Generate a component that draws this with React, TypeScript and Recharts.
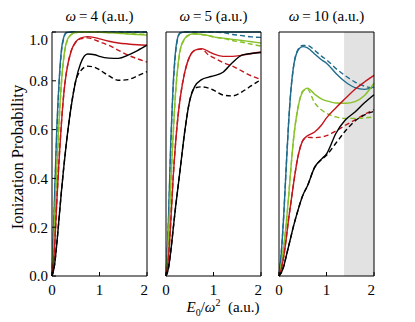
import { LineChart, Line, XAxis, YAxis, ReferenceArea } from "recharts";

// field strength grid E0/omega^2 (a.u.)
const E0 = [0, 0.05, 0.1, 0.15, 0.2, 0.25, 0.3, 0.4, 0.5, 0.6, 0.75, 0.9, 1.0, 1.2, 1.4, 1.6, 1.8, 2.0];

const X_TICKS = [0, 1, 2];
const Y_TICKS = [0, 0.2, 0.4, 0.6, 0.8, 1.0];
const TITLES = ["4", "5", "10"];

// omega = 4
const W4_BLUE = [0, 0.3, 0.6, 0.8, 0.93, 0.98, 0.998, 1, 1, 1, 1, 1, 1, 1, 1, 1, 1, 1];
const W4_BLUE_D = [0, 0.28, 0.58, 0.79, 0.92, 0.975, 0.996, 1, 1, 1, 1, 1, 1, 1, 1, 1, 1, 1];
const W4_GREEN = [0, 0.2, 0.44, 0.64, 0.8, 0.9, 0.955, 0.99, 0.998, 1, 1, 1, 0.999, 0.997, 0.995, 0.992, 0.99, 0.987];
const W4_GREEN_D = [0, 0.19, 0.43, 0.63, 0.79, 0.895, 0.95, 0.988, 0.997, 1, 1, 1, 0.999, 0.998, 0.996, 0.994, 0.992, 0.99];
const W4_RED = [0, 0.1, 0.3, 0.48, 0.63, 0.75, 0.83, 0.92, 0.96, 0.975, 0.981, 0.977, 0.972, 0.962, 0.955, 0.951, 0.948, 0.946];
const W4_RED_D = [0, 0.1, 0.3, 0.48, 0.63, 0.75, 0.83, 0.92, 0.958, 0.972, 0.976, 0.968, 0.96, 0.945, 0.925, 0.905, 0.89, 0.877];
const W4_BLACK = [0, 0.04, 0.13, 0.24, 0.35, 0.45, 0.54, 0.69, 0.8, 0.87, 0.91, 0.907, 0.9, 0.893, 0.892, 0.905, 0.924, 0.946];
const W4_BLACK_D = [0, 0.04, 0.13, 0.24, 0.35, 0.45, 0.54, 0.69, 0.8, 0.84, 0.86, 0.855, 0.845, 0.82, 0.802, 0.805, 0.82, 0.838];

// omega = 5
const W5_BLUE = [0, 0.22, 0.55, 0.78, 0.92, 0.98, 0.997, 1, 1, 1, 1, 1, 1, 1, 1, 1, 1, 1];
const W5_BLUE_D = [0, 0.21, 0.53, 0.77, 0.91, 0.975, 0.995, 1, 1, 1, 1, 1, 1, 0.997, 0.99, 0.985, 0.98, 0.978];
const W5_GREEN = [0, 0.15, 0.38, 0.58, 0.75, 0.86, 0.93, 0.975, 0.99, 0.993, 0.99, 0.985, 0.98, 0.975, 0.97, 0.965, 0.96, 0.955];
const W5_GREEN_D = [0, 0.14, 0.37, 0.57, 0.74, 0.855, 0.925, 0.972, 0.988, 0.992, 0.99, 0.985, 0.98, 0.974, 0.965, 0.958, 0.95, 0.942];
const W5_RED = [0, 0.07, 0.22, 0.4, 0.54, 0.65, 0.73, 0.84, 0.9, 0.925, 0.932, 0.92, 0.91, 0.9, 0.9, 0.905, 0.912, 0.918];
const W5_RED_D = [0, 0.07, 0.22, 0.4, 0.54, 0.65, 0.73, 0.84, 0.9, 0.924, 0.93, 0.905, 0.895, 0.875, 0.86, 0.84, 0.82, 0.805];
const W5_BLACK = [0, 0.03, 0.1, 0.19, 0.28, 0.36, 0.44, 0.6, 0.72, 0.775, 0.805, 0.815, 0.82, 0.835, 0.875, 0.905, 0.912, 0.916];
const W5_BLACK_D = [0, 0.03, 0.1, 0.19, 0.28, 0.36, 0.44, 0.6, 0.72, 0.77, 0.775, 0.77, 0.762, 0.742, 0.738, 0.755, 0.78, 0.805];

// omega = 10
const W10_BLUE = [0, 0.1, 0.25, 0.44, 0.62, 0.76, 0.85, 0.925, 0.94, 0.935, 0.91, 0.885, 0.872, 0.83, 0.795, 0.772, 0.765, 0.775];
const W10_BLUE_D = [0, 0.1, 0.25, 0.44, 0.62, 0.76, 0.85, 0.928, 0.945, 0.945, 0.925, 0.9, 0.886, 0.85, 0.82, 0.795, 0.778, 0.768];
const W10_GREEN = [0, 0.05, 0.12, 0.21, 0.32, 0.44, 0.55, 0.69, 0.755, 0.77, 0.745, 0.725, 0.718, 0.709, 0.708, 0.715, 0.74, 0.79];
const W10_GREEN_D = [0, 0.05, 0.12, 0.21, 0.32, 0.44, 0.55, 0.69, 0.758, 0.765, 0.71, 0.68, 0.667, 0.652, 0.646, 0.646, 0.648, 0.652];
const W10_RED = [0, 0.03, 0.08, 0.15, 0.23, 0.3, 0.37, 0.49, 0.555, 0.575, 0.59, 0.62, 0.648, 0.69, 0.728, 0.765, 0.795, 0.822];
const W10_RED_D = [0, 0.03, 0.08, 0.15, 0.23, 0.3, 0.37, 0.49, 0.555, 0.568, 0.567, 0.57, 0.575, 0.595, 0.618, 0.64, 0.662, 0.682];
const W10_BLACK = [0, 0.015, 0.04, 0.08, 0.12, 0.16, 0.2, 0.27, 0.33, 0.37, 0.445, 0.48, 0.5, 0.585, 0.64, 0.672, 0.71, 0.743];
const W10_BLACK_D = [0, 0.015, 0.04, 0.08, 0.12, 0.16, 0.2, 0.27, 0.33, 0.37, 0.445, 0.478, 0.495, 0.545, 0.595, 0.635, 0.66, 0.675];

const SHADE_FROM = 1.37;

const BLUE = "#1f6b8c";
const GREEN = "#86c128";
const RED = "#c3161c";
const BLACK = "#000000";
const FONT = "'Liberation Serif', 'DejaVu Serif', serif";

const rows = (b, bd, g, gd, r, rd, k, kd) =>
  E0.map((x, i) => ({ x, b: b[i], bd: bd[i], g: g[i], gd: gd[i], r: r[i], rd: rd[i], k: k[i], kd: kd[i] }));

const panels = [
  rows(W4_BLUE, W4_BLUE_D, W4_GREEN, W4_GREEN_D, W4_RED, W4_RED_D, W4_BLACK, W4_BLACK_D),
  rows(W5_BLUE, W5_BLUE_D, W5_GREEN, W5_GREEN_D, W5_RED, W5_RED_D, W5_BLACK, W5_BLACK_D),
  rows(W10_BLUE, W10_BLUE_D, W10_GREEN, W10_GREEN_D, W10_RED, W10_RED_D, W10_BLACK, W10_BLACK_D),
];

const series = [
  { key: "b", color: BLUE, dash: false },
  { key: "bd", color: BLUE, dash: true },
  { key: "g", color: GREEN, dash: false },
  { key: "gd", color: GREEN, dash: true },
  { key: "r", color: RED, dash: false },
  { key: "rd", color: RED, dash: true },
  { key: "k", color: BLACK, dash: false },
  { key: "kd", color: BLACK, dash: true },
];

const PLOT_LEFTS = [52, 166, 279];
const PLOT_W = 95;
const PLOT_H = 244;
const PLOT_TOP = 32;
const AX_W = 40;

function Panel({ idx }) {
  const left = PLOT_LEFTS[idx];
  const tickStyle = { fill: "#000", fontSize: 15, fontFamily: FONT };
  return (
    <>
      <div
        style={{
          position: "absolute",
          left: left - 20,
          width: PLOT_W + 40,
          top: 8,
          textAlign: "center",
          fontFamily: FONT,
          fontSize: 15,
          lineHeight: "16px",
          whiteSpace: "nowrap",
        }}
      >
        <i>ω</i>&thinsp;=&thinsp;{TITLES[idx]} (a.u.)
      </div>
      <div style={{ position: "absolute", left: left - AX_W, top: PLOT_TOP - 1 }}>
        <LineChart
          width={AX_W + PLOT_W + 1}
          height={1 + PLOT_H + 30}
          data={panels[idx]}
          margin={{ top: 0, right: 0, bottom: 0, left: 0 }}
        >
          {idx === 2 && (
            <ReferenceArea x1={SHADE_FROM} x2={2} y1={0} y2={1} fill="#e2e2e2" fillOpacity={1} stroke="none" />
          )}
          <XAxis
            dataKey="x"
            type="number"
            domain={[0, 2]}
            ticks={X_TICKS}
            height={30}
            tickSize={-4}
            tickMargin={12}
            stroke="#000"
            tick={tickStyle}
          />
          <XAxis
            xAxisId="top"
            orientation="top"
            dataKey="x"
            type="number"
            domain={[0, 2]}
            ticks={X_TICKS}
            height={1}
            tickSize={-4}
            stroke="#000"
            tick={false}
          />
          <YAxis
            type="number"
            domain={[0, 1]}
            ticks={Y_TICKS}
            width={AX_W}
            tickSize={-4}
            tickMargin={8}
            stroke="#000"
            tick={idx === 0 ? tickStyle : false}
            tickFormatter={(v) => Number(v).toFixed(1)}
          />
          <YAxis
            yAxisId="right"
            orientation="right"
            type="number"
            domain={[0, 1]}
            ticks={Y_TICKS}
            width={1}
            tickSize={-4}
            stroke="#000"
            tick={false}
          />
          {series.map((s) => (
            <Line
              key={s.key}
              dataKey={s.key}
              type="monotone"
              stroke={s.color}
              strokeWidth={1.4}
              strokeDasharray={s.dash ? "5 3" : undefined}
              dot={false}
              isAnimationActive={false}
            />
          ))}
        </LineChart>
      </div>
    </>
  );
}

export default function App() {
  return (
    <div
      style={{
        position: "absolute",
        left: 0,
        top: 0,
        width: 415,
        height: 322,
        background: "#fff",
        fontFamily: FONT,
        color: "#000",
      }}
    >
      <Panel idx={0} />
      <Panel idx={1} />
      <Panel idx={2} />
      <div
        style={{
          position: "absolute",
          left: 18,
          top: 157,
          transform: "translate(-50%, -50%) rotate(-90deg)",
          fontSize: 16.5,
          whiteSpace: "nowrap",
        }}
      >
        Ionization Probability
      </div>
      <div
        style={{
          position: "absolute",
          left: 150,
          width: 146,
          top: 297,
          textAlign: "center",
          fontSize: 15,
          whiteSpace: "nowrap",
        }}
      >
        <i>E</i>
        <sub style={{ fontSize: 10 }}>0</sub>/<i>ω</i>
        <sup style={{ fontSize: 10 }}>2</sup>&nbsp; (a.u.)
      </div>
    </div>
  );
}
